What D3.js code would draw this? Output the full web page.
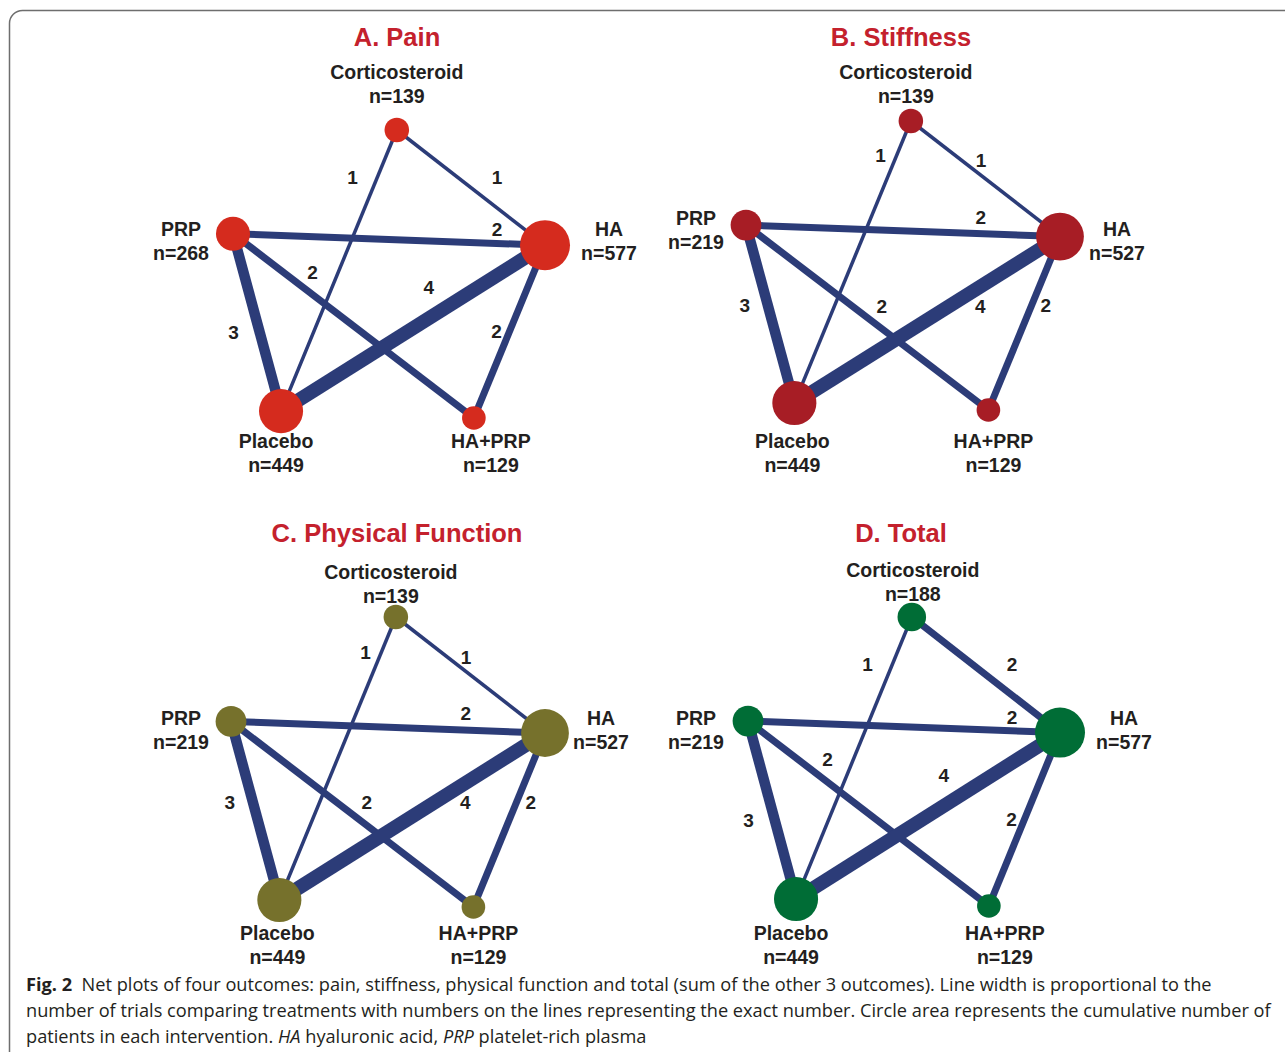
<!DOCTYPE html>
<html>
<head>
<meta charset="utf-8">
<script src="https://cdn.jsdelivr.net/npm/d3@7"></script>
<style>
  html, body { margin: 0; padding: 0; background: #fff; }
  svg { display: block; }
</style>
</head>
<body>
<svg id="fig" width="1285" height="1052"></svg>
<script>
// Treatments (network nodes) and the pairwise comparisons between them
const treatments = ["Corticosteroid", "PRP", "HA", "Placebo", "HA+PRP"];
const comparisons = [
  ["Corticosteroid", "HA"],
  ["Corticosteroid", "Placebo"],
  ["PRP", "HA"],
  ["PRP", "Placebo"],
  ["PRP", "HA+PRP"],
  ["Placebo", "HA"],
  ["HA", "HA+PRP"]
];

// Outcome panels
const outcomes = ["A. Pain", "B. Stiffness", "C. Physical Function", "D. Total"];

// Cumulative number of patients per treatment (same order as treatments)
const patientsPain      = [139, 268, 577, 449, 129];
const patientsStiffness = [139, 219, 527, 449, 129];
const patientsFunction  = [139, 219, 527, 449, 129];
const patientsTotal     = [188, 219, 577, 449, 129];

// Number of trials per comparison (same order as comparisons)
const trialsPain      = [1, 1, 2, 3, 2, 4, 2];
const trialsStiffness = [1, 1, 2, 3, 2, 4, 2];
const trialsFunction  = [1, 1, 2, 3, 2, 4, 2];
const trialsTotal     = [2, 1, 2, 3, 2, 4, 2];

const patientsByOutcome = [patientsPain, patientsStiffness, patientsFunction, patientsTotal];
const trialsByOutcome = [trialsPain, trialsStiffness, trialsFunction, trialsTotal];

// ---------------------------------------------------------------------------
// Layout
const nodeLayout = {            // unit-square position of each node
  "Corticosteroid": [0.525, 0.0],
  "PRP":            [0.0, 0.36],
  "HA":             [1.0, 0.40],
  "Placebo":        [0.154, 0.976],
  "HA+PRP":         [0.772, 1.0]
};

const panels = [
  { title: [397, 46], x: [233, 545], y: [130, 418], nodeColor: "#d52b1e", edgeStyle: 0,
    labelOffset: { "Corticosteroid": [0, -58], "PRP": [-52, -5], "HA": [64, -16], "Placebo": [-5, 30], "HA+PRP": [17, 23] } },
  { title: [901, 46], x: [746, 1060], y: [121, 410], nodeColor: "#a71d25", edgeStyle: 1,
    labelOffset: { "Corticosteroid": [-5, -49], "PRP": [-50, -7], "HA": [57, -8], "Placebo": [-2, 38], "HA+PRP": [5, 31] } },
  { title: [397, 542], x: [231, 545], y: [617, 907], nodeColor: "#76712c", edgeStyle: 1,
    labelOffset: { "Corticosteroid": [-5, -45], "PRP": [-50, -3], "HA": [56, -15], "Placebo": [-2, 33], "HA+PRP": [5, 26] } },
  { title: [901, 542], x: [748, 1060], y: [617, 906], nodeColor: "#006d36", edgeStyle: 0,
    labelOffset: { "Corticosteroid": [1, -47], "PRP": [-52, -3], "HA": [64, -15], "Placebo": [-5, 34], "HA+PRP": [16, 27] } }
];

// Edge-number placement: fraction along the edge plus a pixel nudge
const edgeLabelStyles = [
  [[0.676, 0, -31], [0.167, -25, 0], [0.846, 0, -14], [0.554, -26, 0], [0.33, 0, -23], [0.56, 0, -31], [0.497, -13, 0]],
  [[0.47, 0, -15], [0.122, -16, 0], [0.748, 0, -17], [0.45, -23, 0], [0.56, 0, -23], [0.70, 0, 19], [0.395, 14, 0]]
];

const edgeColor = "#2c3c78";
const textColor = "#231f20";
const titleColor = "#c4212d";
const labelFont = "'Liberation Sans', Arial, Helvetica, sans-serif";

// Circle area proportional to patients; line width proportional to trials
const rScale = d3.scaleSqrt().domain([0, 577]).range([0, 25]);
const wScale = d3.scaleLinear().domain([0, 4]).range([0, 14]);

const svg = d3.select("#fig");

// Rounded outer frame
svg.append("rect")
  .attr("x", 9.5).attr("y", 10.5)
  .attr("width", 1320).attr("height", 1100)
  .attr("rx", 13).attr("ry", 13)
  .attr("fill", "none")
  .attr("stroke", "#6e6e6e")
  .attr("stroke-width", 1.5);

outcomes.forEach((title, i) => {
  const p = panels[i];
  const xs = d3.scaleLinear().domain([0, 1]).range(p.x);
  const ys = d3.scaleLinear().domain([0, 1]).range(p.y);
  const pos = t => [xs(nodeLayout[t][0]), ys(nodeLayout[t][1])];

  const nodes = treatments.map((t, k) => ({ name: t, n: patientsByOutcome[i][k], xy: pos(t) }));
  const edges = comparisons.map((c, k) => ({
    a: pos(c[0]), b: pos(c[1]), trials: trialsByOutcome[i][k], place: edgeLabelStyles[p.edgeStyle][k]
  }));

  const g = svg.append("g").attr("class", "panel");

  // Title
  g.append("text")
    .attr("x", p.title[0]).attr("y", p.title[1])
    .attr("text-anchor", "middle")
    .attr("font-family", labelFont)
    .attr("font-weight", "bold")
    .attr("font-size", 25.5)
    .attr("fill", titleColor)
    .text(title);

  // Edges
  g.selectAll("line.edge").data(edges).join("line")
    .attr("class", "edge")
    .attr("x1", d => d.a[0]).attr("y1", d => d.a[1])
    .attr("x2", d => d.b[0]).attr("y2", d => d.b[1])
    .attr("stroke", edgeColor)
    .attr("stroke-width", d => wScale(d.trials));

  // Edge numbers
  g.selectAll("text.edge-n").data(edges).join("text")
    .attr("class", "edge-n")
    .attr("x", d => d.a[0] + d.place[0] * (d.b[0] - d.a[0]) + d.place[1])
    .attr("y", d => d.a[1] + d.place[0] * (d.b[1] - d.a[1]) + d.place[2] + 7)
    .attr("text-anchor", "middle")
    .attr("font-family", labelFont)
    .attr("font-weight", "bold")
    .attr("font-size", 19)
    .attr("fill", textColor)
    .text(d => d.trials);

  // Nodes
  g.selectAll("circle.node").data(nodes).join("circle")
    .attr("class", "node")
    .attr("cx", d => d.xy[0]).attr("cy", d => d.xy[1])
    .attr("r", d => rScale(d.n))
    .attr("fill", p.nodeColor);

  // Node labels: name and patient count
  const lab = g.selectAll("text.node-label").data(nodes).join("text")
    .attr("class", "node-label")
    .attr("text-anchor", "middle")
    .attr("font-family", labelFont)
    .attr("font-weight", "bold")
    .attr("font-size", 19.5)
    .attr("fill", textColor);
  lab.append("tspan")
    .attr("x", d => d.xy[0] + p.labelOffset[d.name][0])
    .attr("y", d => d.xy[1] + p.labelOffset[d.name][1] + 7)
    .text(d => d.name);
  lab.append("tspan")
    .attr("x", d => d.xy[0] + p.labelOffset[d.name][0])
    .attr("y", d => d.xy[1] + p.labelOffset[d.name][1] + 31)
    .text(d => "n=" + d.n);
});

// Figure caption
const captionFont = "'Open Sans', 'Noto Sans', sans-serif";
const captionLines = [
  { y: 991, len: 1194, parts: [
      { t: "Fig. 2", b: true },
      { t: "\u00a0 Net plots of four outcomes: pain, stiffness, physical function and total (sum of the other 3 outcomes). Line width is proportional to the" } ] },
  { y: 1017, len: 1246, parts: [
      { t: "number of trials comparing treatments with numbers on the lines representing the exact number. Circle area represents the cumulative number of" } ] },
  { y: 1043, len: 622, parts: [
      { t: "patients in each intervention. " },
      { t: "HA", it: true },
      { t: " hyaluronic acid, " },
      { t: "PRP", it: true },
      { t: " platelet-rich plasma" } ] }
];
const captionTexts = captionLines.map(line => {
  const t = svg.append("text")
    .attr("x", 26).attr("y", line.y)
    .attr("font-family", captionFont)
    .attr("font-size", 18)
    .attr("fill", textColor);
  line.parts.forEach(pt => {
    t.append("tspan")
      .attr("font-weight", pt.b ? "bold" : null)
      .attr("font-style", pt.it ? "italic" : null)
      .text(pt.t);
  });
  return t;
});
// Size the caption so that each line fills its measure at natural glyph width
const fitSizes = captionTexts.map((t, k) => 18 * captionLines[k].len / t.node().getComputedTextLength());
const captionSize = d3.min(fitSizes.slice(0, 2));
captionTexts.forEach(t => t.attr("font-size", captionSize));
</script>
</body>
</html>
